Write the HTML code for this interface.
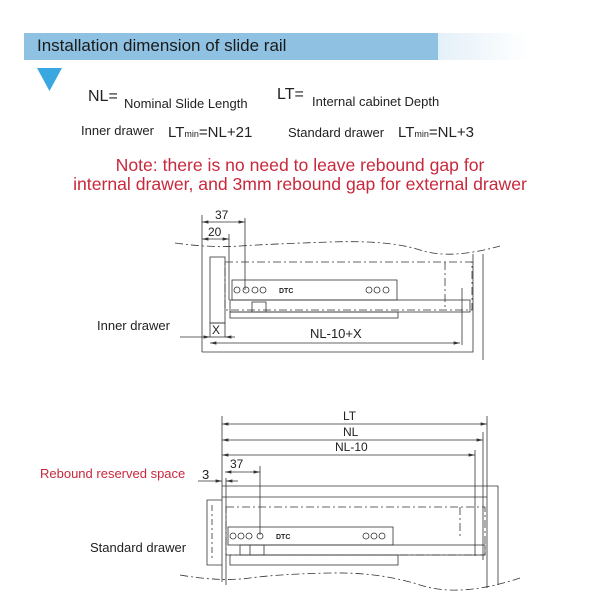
<!DOCTYPE html>
<html><head><meta charset="utf-8"><style>
body{margin:0;background:#fff;width:600px;height:600px;overflow:hidden;position:relative;font-family:"Liberation Sans",sans-serif}
.t{position:absolute;white-space:nowrap;color:#222}
</style></head><body>
<div style="position:absolute;left:24px;top:33px;width:414px;height:27px;background:#8fc2e2"></div>
<div style="position:absolute;left:438px;top:33px;width:90px;height:27px;background:linear-gradient(90deg,#e4f0f8,#fff)"></div>
<div class="t" style="left:37px;top:36px;font-size:17px;color:#1a1a1a">Installation dimension of slide rail</div>
<svg style="position:absolute;left:0;top:0" width="600" height="600">
<polygon points="37,68 62,68 49.5,91" fill="#3aa8e0"/>
</svg>
<div class="t" style="left:88px;top:88px;font-size:16px">NL=</div>
<div class="t" style="left:124px;top:96px;font-size:13px">Nominal Slide Length</div>
<div class="t" style="left:277px;top:86px;font-size:16px">LT=</div>
<div class="t" style="left:312px;top:94px;font-size:13px">Internal cabinet Depth</div>
<div class="t" style="left:81px;top:123px;font-size:13px">Inner drawer</div>
<div class="t" style="left:168px;top:124px;font-size:15px">LT<span style="font-size:9px">min</span>=NL+21</div>
<div class="t" style="left:288px;top:125px;font-size:13px">Standard drawer</div>
<div class="t" style="left:398px;top:124px;font-size:15px">LT<span style="font-size:9px">min</span>=NL+3</div>
<div class="t" style="left:0;width:600px;text-align:center;top:156px;font-size:17.6px;line-height:19px;color:#c8283c;white-space:normal">Note: there is no need to leave rebound gap for<br>internal drawer, and 3mm rebound gap for external drawer</div>
<div class="t" style="left:97px;top:318px;font-size:13px">Inner drawer</div>
<div class="t" style="left:40px;top:466px;font-size:13px;color:#c8283c">Rebound reserved space</div>
<div class="t" style="left:90px;top:540px;font-size:13px">Standard drawer</div>
<svg style="position:absolute;left:0;top:0" width="600" height="600" font-family="Liberation Sans" font-size="12" fill="none" stroke="#333" stroke-width="0.8">
<defs><marker id="a" markerWidth="8" markerHeight="6" refX="8" refY="3" orient="auto-start-reverse"><path d="M0,1 L8,3 L0,5z" fill="#333" stroke="none"/></marker></defs>
<path d="M175,243 Q210,248 240,246 T330,242 T420,250 T500,246" stroke-dasharray="8,3,2,3"/>
<line x1="202" y1="215" x2="202" y2="352"/>
<line x1="229" y1="234" x2="229" y2="300"/>
<line x1="245" y1="218" x2="245" y2="290"/>
<line x1="202" y1="222" x2="245" y2="222" marker-start="url(#a)" marker-end="url(#a)"/>
<line x1="202" y1="239" x2="229" y2="239" marker-start="url(#a)" marker-end="url(#a)"/>
<text x="215" y="219" fill="#222" stroke="none">37</text>
<text x="208" y="236" fill="#222" stroke="none">20</text>
<polyline points="202,352 473,352 473,254"/>
<line x1="483" y1="254" x2="483" y2="360"/>
<rect x="210" y="257" width="15" height="66"/>
<rect x="210" y="323" width="15" height="14"/>
<text x="212" y="334" fill="#222" stroke="none">X</text>
<line x1="180" y1="337" x2="210" y2="337" marker-end="url(#a)"/>
<line x1="225" y1="337" x2="235" y2="337" marker-start="url(#a)"/>
<rect x="225" y="262" width="247" height="48" stroke-dasharray="8,3,2,3"/>
<line x1="445" y1="262" x2="445" y2="310" stroke-dasharray="8,3,2,3"/>
<rect x="232" y="280" width="165" height="20"/>
<rect x="230" y="300" width="240" height="12"/>
<rect x="230" y="312" width="168" height="6"/>
<rect x="252" y="302" width="14" height="10"/>
<circle cx="237" cy="290" r="3"/><circle cx="246" cy="290" r="3"/><circle cx="255" cy="290" r="3"/><circle cx="263" cy="290" r="3"/>
<circle cx="369" cy="290" r="3"/><circle cx="377" cy="290" r="3"/><circle cx="386" cy="290" r="3"/>
<text x="279" y="293" font-size="7" font-weight="bold" fill="#222" stroke="none">DTC</text>
<line x1="462" y1="288" x2="462" y2="345"/>
<line x1="210" y1="343" x2="460" y2="343" marker-start="url(#a)" marker-end="url(#a)"/>
<text x="310" y="338" fill="#222" stroke="none" font-size="13">NL-10+X</text>
<line x1="222" y1="416" x2="222" y2="582"/>
<line x1="487" y1="416" x2="487" y2="588"/>
<line x1="483" y1="432" x2="483" y2="560"/>
<line x1="475" y1="450" x2="475" y2="556"/>
<line x1="222" y1="424" x2="487" y2="424" marker-start="url(#a)" marker-end="url(#a)"/>
<line x1="222" y1="440" x2="483" y2="440" marker-start="url(#a)" marker-end="url(#a)"/>
<line x1="222" y1="455" x2="475" y2="455" marker-start="url(#a)" marker-end="url(#a)"/>
<text x="343" y="420" fill="#222" stroke="none">LT</text>
<text x="343" y="436" fill="#222" stroke="none">NL</text>
<text x="335" y="451" fill="#222" stroke="none">NL-10</text>
<line x1="260" y1="466" x2="260" y2="535"/>
<line x1="225" y1="472" x2="260" y2="472" marker-start="url(#a)" marker-end="url(#a)"/>
<text x="230" y="468" fill="#222" stroke="none">37</text>
<text x="202" y="479" fill="#222" stroke="none" font-size="13">3</text>
<line x1="198" y1="481" x2="222" y2="481" marker-end="url(#a)"/>
<line x1="226" y1="481" x2="238" y2="481" marker-start="url(#a)"/>
<line x1="226" y1="478" x2="226" y2="585"/>
<polyline points="222,486 498,486 498,585"/>
<line x1="222" y1="497" x2="487" y2="497"/>
<polyline points="222,500 207,500 207,565 222,565"/>
<line x1="212" y1="505" x2="212" y2="560" stroke-dasharray="6,3,2,3"/>
<rect x="226" y="507" width="259" height="48" stroke-dasharray="8,3,2,3"/>
<polyline points="460,507 460,537" stroke-dasharray="8,3,2,3"/>
<rect x="228" y="527" width="165" height="18"/>
<rect x="240" y="545" width="245" height="10"/>
<rect x="230" y="555" width="168" height="10"/>
<rect x="250" y="545" width="14" height="10"/>
<circle cx="233" cy="536" r="3"/><circle cx="241" cy="536" r="3"/><circle cx="249" cy="536" r="3"/><circle cx="260" cy="536" r="3"/>
<circle cx="366" cy="536" r="3"/><circle cx="374" cy="536" r="3"/><circle cx="382" cy="536" r="3"/>
<text x="276" y="539" font-size="7" font-weight="bold" fill="#222" stroke="none">DTC</text>
<path d="M180,575 Q220,582 250,578 T330,573 T420,585 T520,578" stroke-dasharray="8,3,2,3"/>
</svg>
</body></html>
